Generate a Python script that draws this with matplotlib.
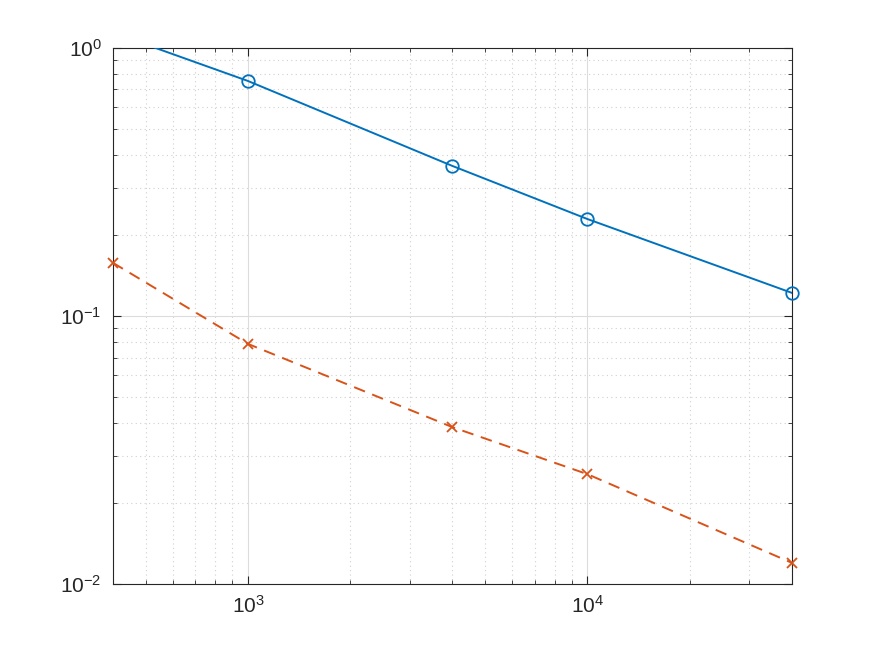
import numpy as np
import matplotlib.pyplot as plt
from matplotlib.ticker import LogLocator, NullFormatter

# data
n = [400, 1000, 4000, 10000, 40000]
err_a = [1.14, 0.753, 0.363, 0.230, 0.122]
err_b = [0.158, 0.0787, 0.0385, 0.0257, 0.0120]

plt.rcParams['font.family'] = ['Liberation Sans', 'DejaVu Sans']

fig = plt.figure(figsize=(8.75, 6.57), dpi=100)
ax = fig.add_axes([0.129, 0.111, 0.776, 0.816])

blue = '#0072BD'
red = '#D95319'

# lines are clipped to the axes, markers inside the limits are drawn whole
ax.loglog(n, err_a, color=blue, linewidth=1.4, zorder=3)
ax.loglog(n[1:], err_a[1:], color=blue, marker='o', markersize=9, markerfacecolor='none',
          markeredgewidth=1.3, linestyle='none', clip_on=False, zorder=4)
ax.loglog(n, err_b, color=red, linestyle='--', dashes=(6, 4), linewidth=1.4, zorder=3)
ax.loglog(n, err_b, color=red, marker='x', markersize=7, markeredgewidth=1.3,
          linestyle='none', clip_on=False, zorder=4)

ax.set_xlim(400, 40000)
ax.set_ylim(0.01, 1)

ax.xaxis.set_major_locator(LogLocator(base=10, numticks=10))
ax.yaxis.set_major_locator(LogLocator(base=10, numticks=10))
ax.xaxis.set_minor_locator(LogLocator(base=10, subs=np.arange(2, 10), numticks=20))
ax.yaxis.set_minor_locator(LogLocator(base=10, subs=np.arange(2, 10), numticks=20))
ax.xaxis.set_minor_formatter(NullFormatter())
ax.yaxis.set_minor_formatter(NullFormatter())

ax.grid(True, which='major', color='#dcdcdc', linestyle='-', linewidth=0.8)
ax.grid(True, which='minor', color='#d0d0d0', linestyle=(0, (1, 3)), linewidth=0.8)

ax.tick_params(which='both', direction='in', top=True, right=True, color='#262626',
               labelsize=15, labelcolor='#262626')
ax.tick_params(which='major', length=6, pad=8)
ax.tick_params(which='minor', length=3)
for s in ax.spines.values():
    s.set_color('#262626')
    s.set_linewidth(0.8)

fig.savefig('out.png', dpi=100)
